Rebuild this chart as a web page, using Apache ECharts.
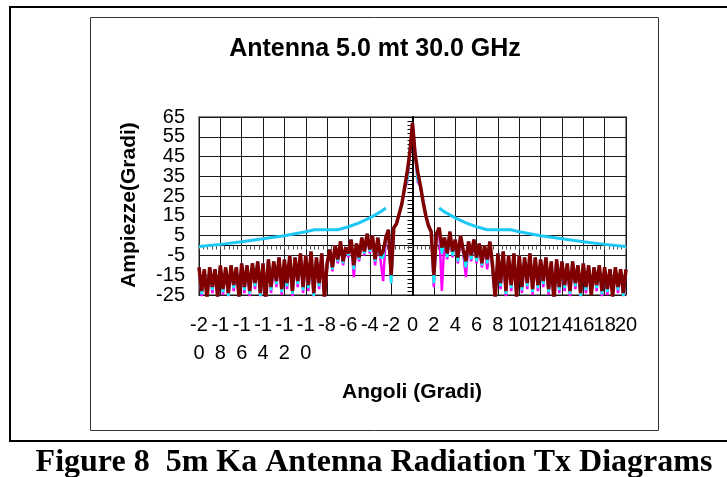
<!DOCTYPE html>
<html>
<head>
<meta charset="utf-8">
<script src="https://cdn.jsdelivr.net/npm/echarts@6/dist/echarts.min.js"></script>
<style>
html,body{margin:0;padding:0;background:#fff;}
#main{width:727px;height:477px;}
</style>
</head>
<body>
<div id="main"></div>
<script>
// angoli (gradi), passo 0.25
var angles = [
  -20,-19.75,-19.5,-19.25,-19,-18.75,-18.5,-18.25,
  -18,-17.75,-17.5,-17.25,-17,-16.75,-16.5,-16.25,
  -16,-15.75,-15.5,-15.25,-15,-14.75,-14.5,-14.25,
  -14,-13.75,-13.5,-13.25,-13,-12.75,-12.5,-12.25,
  -12,-11.75,-11.5,-11.25,-11,-10.75,-10.5,-10.25,
  -10,-9.75,-9.5,-9.25,-9,-8.75,-8.5,-8.25,
  -8,-7.75,-7.5,-7.25,-7,-6.75,-6.5,-6.25,
  -6,-5.75,-5.5,-5.25,-5,-4.75,-4.5,-4.25,
  -4,-3.75,-3.5,-3.25,-3,-2.75,-2.5,-2.25,
  -2,-1.75,-1.5,-1.25,-1,-0.75,-0.5,-0.25,
  0,0.25,0.5,0.75,1,1.25,1.5,1.75,
  2,2.25,2.5,2.75,3,3.25,3.5,3.75,
  4,4.25,4.5,4.75,5,5.25,5.5,5.75,
  6,6.25,6.5,6.75,7,7.25,7.5,7.75,
  8,8.25,8.5,8.75,9,9.25,9.5,9.75,
  10,10.25,10.5,10.75,11,11.25,11.5,11.75,
  12,12.25,12.5,12.75,13,13.25,13.5,13.75,
  14,14.25,14.5,14.75,15,15.25,15.5,15.75,
  16,16.25,16.5,16.75,17,17.25,17.5,17.75,
  18,18.25,18.5,18.75,19,19.25,19.5,19.75,
  20
];

// traccia principale (rosso scuro)
var redValues = [
  -11,-23,-12,-27,-11,-21,-12,-26,
  -10,-22,-11,-24,-10,-20,-11,-26,
  -9,-21,-10,-23,-9,-19,-8,-24,
  -9,-28,-7,-21,-8,-18,-6,-22,
  -7,-19,-5,-23,-6,-18,-4,-21,
  -5,-20,-3,-24,-6,-19,-4,-27,
  -9,-2,-11,0,-7,2,-8,-1,
  -4,3,-10,1,-6,4,-3,6,
  -2,5,-7,4,-5,-3,4,8,
  -15,9,11,16,21,29,37,47,
  62,46,37,30,22,15,10,7,
  -15,6,9,-1,4,-4,7,-3,
  3,-6,5,-2,-8,2,-5,3,
  -6,1,-9,0,-7,2,-10,-27,
  -4,-19,-3,-23,-5,-20,-4,-26,
  -5,-21,-6,-19,-4,-22,-6,-20,
  -7,-18,-6,-22,-8,-28,-7,-21,
  -8,-20,-9,-23,-8,-19,-10,-24,
  -9,-21,-10,-25,-11,-20,-10,-23,
  -11,-22,-12,-26,-11,-21,-12,-24,
  -12
];

var cyanValues = [
  -11,-24.5,-12,-27,-11,-22.5,-12,-26,
  -10,-23.5,-11,-25.5,-10,-21.5,-11,-26,
  -9,-22.5,-10,-24.5,-9,-20.5,-8,-25.5,
  -9,-28,-7,-22.5,-8,-19.5,-6,-23.5,
  -7,-20.5,-5,-24.5,-6,-19.5,-4,-22.5,
  -5,-21.5,-3,-25.5,-6,-20.5,-4,-27,
  -10,-2,-12,0,-8,2,-9,-1,
  -5,3,-12,1,-7,4,-4,6,
  -3,5,-8,4,-6,-6,4,8,
  -19,9,11,16,21,29,33,47,
  62,46,33,30,22,15,10,7,
  -19,6,9,-4,4,-6,7,-5,
  3,-8,5,-3,-11,2,-7,3,
  -8,1,-10,0,-9,2,-12,-27,
  -4,-20.5,-3,-24.5,-5,-21.5,-4,-26,
  -5,-22.5,-6,-20.5,-4,-23.5,-6,-21.5,
  -7,-19.5,-6,-23.5,-8,-28,-7,-22.5,
  -8,-21.5,-9,-24.5,-8,-20.5,-10,-25.5,
  -9,-22.5,-10,-25,-11,-21.5,-10,-24.5,
  -11,-23.5,-12,-26,-11,-22.5,-12,-25.5,
  -12
];

var magentaValues = [
  -11,-26,-12,-27,-11,-24,-12,-26,
  -10,-25,-11,-27,-10,-23,-11,-26,
  -9,-24,-10,-26,-9,-22,-8,-27,
  -9,-28,-7,-24,-8,-21,-6,-25,
  -7,-22,-5,-26,-6,-21,-4,-24,
  -5,-23,-3,-27,-6,-22,-4,-27,
  -11,-2,-13,0,-9,2,-10,-1,
  -6,3,-16,1,-8,4,-5,6,
  -4,5,-10,4,-7,-18,4,8,
  -19,9,11,16,21,29,32,47,
  62,46,32,30,22,15,10,7,
  -21,6,9,-23,4,-7,7,-6,
  3,-9,5,-4,-16,2,-8,3,
  -9,1,-11,0,-12,2,-13,-27,
  -4,-22,-3,-26,-5,-23,-4,-26,
  -5,-24,-6,-22,-4,-25,-6,-23,
  -7,-21,-6,-25,-8,-28,-7,-24,
  -8,-23,-9,-26,-8,-22,-10,-27,
  -9,-24,-10,-25,-11,-23,-10,-26,
  -11,-25,-12,-26,-11,-24,-12,-27,
  -12
];

// maschera (azzurro), due rami
var maskLeftAngles = [-20,-18,-16,-14,-12,-10,-9.2,-7,-6,-5,-4,-3,-2.5];
var maskLeftValues = [-0.5,0.6,1.9,3.4,5,7,8,8,9.5,11.5,14,17,19];
var maskRightAngles = [2.5,3,4,5,6,7,9.2,10,12,14,16,18,20];
var maskRightValues = [19,17,14,11.5,9.5,8,8,7,5,3.4,1.9,0.6,-0.5];

// tacche etichettate, divise in due gruppi alterni (altrimenti echarts le nasconde)
var xTicksA = [-20,-16,-12,-8,-4,0,4,8,12,16,20];
var xTicksB = [-18,-14,-10,-6,-2,2,6,10,14,18];
var yTicksA = [-25,-5,15,35,55];
var yTicksB = [-15,5,25,45,65];

// etichette asse x come escono in Excel (quelle lunghe vanno a capo)
var xTickLabels = ['-2\n0','-1\n8','-1\n6','-1\n4','-1\n2','-1\n0','-8','-6','-4','-2','0',
  '2','4','6','8','10','12','14','16','18','20'];

function pairs(xs, ys) {
  return xs.map(function (x, i) { return [x, ys[i]]; });
}

var font = '"Liberation Sans", Arial, sans-serif';
var chart = echarts.init(document.getElementById('main'), null, {renderer: 'canvas'});

function xLabelAxis(ticks, grid) {
  return {
    type: 'value', min: -20, max: 20, interval: 2, position: 'bottom',
    axisLine: {show: false, onZero: false},
    axisTick: {show: false},
    splitLine: {show: grid, lineStyle: {color: '#1a1a1a', width: 1}},
    axisLabel: {
      fontFamily: font, fontSize: 20, color: '#000', margin: 16, lineHeight: 28,
      customValues: ticks,
      formatter: function (v) { return xTickLabels[Math.round((v + 20) / 2)]; }
    }
  };
}

function yLabelAxis(ticks, grid) {
  return {
    type: 'value', min: -25, max: 65, interval: 10, position: 'left',
    axisLine: {show: false, onZero: false},
    axisTick: {show: false},
    splitLine: {show: grid, lineStyle: {color: '#1a1a1a', width: 1}},
    axisLabel: {fontFamily: font, fontSize: 20, color: '#000', margin: 14, customValues: ticks}
  };
}

var option = {
  animation: false,
  backgroundColor: '#fff',
  grid: {
    left: 199, right: 101, top: 117, bottom: 182,
    show: true, borderColor: '#8c8c8c', borderWidth: 2, backgroundColor: 'transparent'
  },
  xAxis: [
    xLabelAxis(xTicksA, true),
    xLabelAxis(xTicksB, false),
    {
      // asse sullo zero con le tacche
      type: 'value', min: -20, max: 20, interval: 2, position: 'bottom',
      axisLine: {show: true, onZero: true, onZeroAxisIndex: 0, lineStyle: {color: '#000', width: 1}},
      axisTick: {show: true, length: 4, lineStyle: {color: '#555', width: 1}},
      minorTick: {show: true, splitNumber: 5, length: 4, lineStyle: {color: '#555', width: 1}},
      axisLabel: {show: false},
      splitLine: {show: false}
    }
  ],
  yAxis: [
    yLabelAxis(yTicksA, true),
    yLabelAxis(yTicksB, false),
    {
      type: 'value', min: -25, max: 65, interval: 10, position: 'left',
      axisLine: {show: true, onZero: true, onZeroAxisIndex: 0, lineStyle: {color: '#000', width: 2}},
      axisTick: {show: true, length: 5, lineStyle: {color: '#000', width: 1}},
      minorTick: {show: true, splitNumber: 5, length: 5, lineStyle: {color: '#000', width: 1}},
      axisLabel: {show: false},
      splitLine: {show: false}
    }
  ],
  series: [
    {
      name: 'magenta', type: 'line', symbol: 'none', data: pairs(angles, magentaValues),
      lineStyle: {color: '#ff00ff', width: 2.5}, z: 3
    },
    {
      name: 'ciano', type: 'line', symbol: 'none', data: pairs(angles, cyanValues),
      lineStyle: {color: '#00ffff', width: 2.5}, z: 4
    },
    {
      name: 'rosso', type: 'line', symbol: 'none', data: pairs(angles, redValues),
      lineStyle: {color: '#800000', width: 3.5}, z: 5
    },
    {
      name: 'maschera sx', type: 'line', symbol: 'none', data: pairs(maskLeftAngles, maskLeftValues),
      lineStyle: {color: '#1ec8f5', width: 3}, z: 6
    },
    {
      name: 'maschera dx', type: 'line', symbol: 'none', data: pairs(maskRightAngles, maskRightValues),
      lineStyle: {color: '#1ec8f5', width: 3}, z: 6
    }
  ],
  graphic: [
    {type: 'rect', silent: true, shape: {x: 90.5, y: 17.5, width: 568, height: 413},
      style: {fill: 'none', stroke: '#333', lineWidth: 1}},
    {type: 'line', silent: true, shape: {x1: 10, y1: 7, x2: 727, y2: 7}, style: {stroke: '#000', lineWidth: 2}},
    {type: 'line', silent: true, shape: {x1: 10, y1: 6, x2: 10, y2: 442}, style: {stroke: '#000', lineWidth: 2}},
    {type: 'line', silent: true, shape: {x1: 10, y1: 441, x2: 727, y2: 441}, style: {stroke: '#000', lineWidth: 2}},
    {type: 'text', silent: true, x: 375, y: 49,
      style: {text: 'Antenna 5.0 mt 30.0 GHz', font: 'bold 25px ' + font, fill: '#000', align: 'center', verticalAlign: 'middle'}},
    {type: 'text', silent: true, x: 129, y: 205, rotation: Math.PI / 2,
      style: {text: 'Ampiezze(Gradi)', font: 'bold 21px ' + font, fill: '#000', align: 'center', verticalAlign: 'middle'}},
    {type: 'text', silent: true, x: 412, y: 392,
      style: {text: 'Angoli (Gradi)', font: 'bold 21px ' + font, fill: '#000', align: 'center', verticalAlign: 'middle'}},
    {type: 'text', silent: true, x: 374, y: 463,
      style: {text: 'Figure 8  5m Ka Antenna Radiation Tx Diagrams', font: 'bold 32px "Liberation Serif", "Times New Roman", serif',
        fill: '#000', align: 'center', verticalAlign: 'middle'}}
  ]
};

chart.setOption(option);
</script>
</body>
</html>
